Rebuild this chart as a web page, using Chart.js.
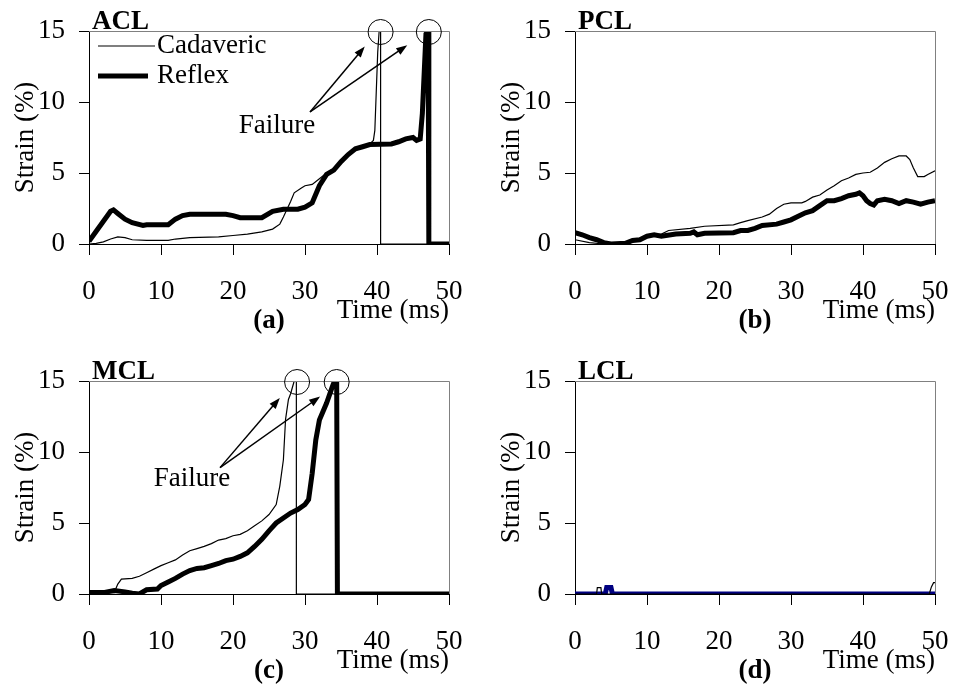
<!DOCTYPE html>
<html>
<head>
<meta charset="utf-8">
<script src="https://cdn.jsdelivr.net/npm/chart.js@4.4.0/dist/chart.umd.min.js"></script>
<style>
  html, body { margin: 0; padding: 0; background: #fff; overflow: hidden; }
  #wrap { position: relative; width: 954px; height: 687px; }
  .panel { position: absolute; width: 468px; height: 337px; }
</style>
</head>
<body>
<div id="wrap">
  <div class="panel" style="left:0;top:0"><canvas id="acl" width="468" height="337"></canvas></div>
  <div class="panel" style="left:486px;top:0"><canvas id="pcl" width="468" height="337"></canvas></div>
  <div class="panel" style="left:0;top:350px"><canvas id="mcl" width="468" height="337"></canvas></div>
  <div class="panel" style="left:486px;top:350px"><canvas id="lcl" width="468" height="337"></canvas></div>
</div>
<script>
// series names and axis text
const seriesNames = ['Cadaveric', 'Reflex'];
const xTitle = 'Time (ms)';
const yTitle = 'Strain (%)';
const xTicks = [0, 10, 20, 30, 40, 50];
const yTicks = [0, 5, 10, 15];

// ACL (a)
const aclCadT = [0, 1, 2, 3, 4, 5, 6, 8, 11, 12, 14, 18, 20, 22, 24, 25.5, 26.5, 27, 28, 28.5, 29.5, 30, 31, 32, 33, 34, 35, 36, 37, 38, 39, 39.5, 39.7, 40.1, 40.3, 40.5, 40.5, 50];
const aclCadY = [0, 0.05, 0.15, 0.35, 0.5, 0.45, 0.3, 0.25, 0.25, 0.35, 0.45, 0.5, 0.6, 0.7, 0.85, 1.05, 1.4, 1.9, 3.0, 3.6, 3.95, 4.1, 4.2, 4.6, 5.0, 5.3, 5.8, 6.3, 6.75, 6.9, 7.05, 7.3, 8.0, 13.5, 15, 15, 0, 0];
const aclRefT = [0, 1, 2, 3, 3.4, 4, 5, 6, 7.5, 8, 11, 12, 13, 14, 19, 20, 21, 24, 25.5, 27, 29, 30, 31, 32, 33, 34, 35, 36, 37, 38, 39, 42, 43, 44, 45, 45.5, 46, 46.3, 46.8, 47.1, 47.2, 50];
const aclRefY = [0.2, 0.9, 1.6, 2.3, 2.4, 2.15, 1.75, 1.5, 1.3, 1.35, 1.35, 1.75, 2.0, 2.1, 2.1, 2.0, 1.85, 1.85, 2.3, 2.45, 2.45, 2.6, 2.9, 4.1, 4.9, 5.2, 5.8, 6.3, 6.7, 6.85, 7.0, 7.05, 7.2, 7.4, 7.5, 7.3, 7.4, 9.2, 14.8, 15, 0, 0];

// PCL (b)
const pclCadT = [0, 2, 4, 7, 8, 10, 12, 13, 16, 18, 22, 23, 24, 26, 27, 28, 29, 30, 31.5, 32, 33, 34, 35, 36, 37, 38, 39, 40, 41, 42, 43, 44, 45, 46, 46.5, 47, 47.6, 48.5, 49, 50];
const pclCadY = [0.3, 0.1, 0, 0, 0.15, 0.55, 0.7, 0.95, 1.1, 1.25, 1.35, 1.5, 1.65, 1.9, 2.1, 2.5, 2.8, 2.9, 2.9, 3.0, 3.3, 3.45, 3.8, 4.1, 4.45, 4.65, 4.9, 5.0, 5.05, 5.35, 5.75, 6.0, 6.2, 6.2, 5.95, 5.35, 4.75, 4.75, 4.9, 5.15];
const pclRefT = [0, 1, 2, 3, 4, 5, 7, 8, 9, 10, 11, 12, 14, 16, 16.5, 17, 18, 22, 23, 24, 25, 26, 28, 29, 30, 31, 32, 33, 34, 35, 36, 37, 38, 39, 39.5, 40, 40.5, 41, 41.5, 42, 43, 44, 45, 46, 47, 48, 49, 50];
const pclRefY = [0.8, 0.65, 0.45, 0.3, 0.1, 0, 0.05, 0.25, 0.3, 0.55, 0.65, 0.55, 0.7, 0.75, 0.85, 0.65, 0.75, 0.8, 0.95, 0.95, 1.1, 1.3, 1.4, 1.55, 1.7, 1.95, 2.2, 2.35, 2.7, 3.05, 3.05, 3.2, 3.4, 3.5, 3.6, 3.4, 3.05, 2.85, 2.75, 3.05, 3.15, 3.05, 2.85, 3.05, 2.95, 2.8, 2.95, 3.05];

// MCL (c)
const mclCadT = [0, 3.5, 4, 4.5, 6, 7, 8, 9, 10, 11, 12, 13, 14, 15, 16, 17, 18, 19, 20, 21, 22, 23, 24, 25, 26, 26.5, 27, 27.3, 27.7, 28, 28.5, 28.8, 28.8, 50];
const mclCadY = [0.1, 0.1, 0.7, 1.05, 1.1, 1.25, 1.5, 1.75, 2.0, 2.2, 2.4, 2.75, 3.05, 3.2, 3.35, 3.55, 3.8, 3.9, 4.1, 4.2, 4.45, 4.8, 5.15, 5.6, 6.3, 7.6, 9.45, 12.3, 13.7, 14.1, 15, 15, 0, 0];
const mclRefT = [0, 2, 3.5, 5, 6, 7, 8, 9.5, 10, 11, 12, 13, 14, 15, 16, 17, 18, 19, 20, 21, 22, 23, 24, 25, 26, 27, 28, 29, 30, 30.5, 31, 31.5, 32, 33, 33.8, 34.1, 34.4, 34.5, 50];
const mclRefY = [0.1, 0.1, 0.25, 0.15, 0.05, 0, 0.3, 0.35, 0.6, 0.85, 1.1, 1.4, 1.65, 1.8, 1.85, 2.0, 2.15, 2.35, 2.45, 2.65, 2.9, 3.35, 3.85, 4.45, 5.0, 5.35, 5.7, 5.95, 6.3, 6.65, 8.5, 10.85, 12.25, 13.45, 14.6, 15, 15, 0, 0];

// LCL (d)
const lclCadT = [0, 3, 3.1, 3.6, 3.7, 49.2, 49.5, 49.8, 50];
const lclCadY = [0, 0, 0.45, 0.45, 0, 0, 0.5, 0.8, 0.8];
const lclRefT = [0, 4.2, 4.4, 5.0, 5.2, 50];
const lclRefY = [0, 0, 0.45, 0.45, 0, 0];

const FONT = '"Liberation Serif", "Times New Roman", serif';

const pts = (t, v) => t.map((x, i) => ({ x: x, y: v[i] }));

// draws frame, panel name, letter, legend and failure marks
const panelDecor = {
  id: 'panelDecor',
  afterDraw(chart, args, o) {
    const { ctx, chartArea: ca, scales } = chart;
    const xs = scales.x, ys = scales.y;
    ctx.save();
    ctx.strokeStyle = '#808080';
    ctx.lineWidth = 1;
    ctx.beginPath();
    ctx.moveTo(ca.left, ca.top + 0.5);
    ctx.lineTo(ca.right + 0.5, ca.top + 0.5);
    ctx.lineTo(ca.right + 0.5, ca.bottom);
    ctx.stroke();

    ctx.fillStyle = '#000';
    ctx.font = 'bold 27px ' + FONT;
    ctx.textAlign = 'left';
    ctx.textBaseline = 'alphabetic';
    ctx.fillText(o.name, ca.left + 3, ca.top - 2);
    ctx.textAlign = 'center';
    ctx.textBaseline = 'middle';
    ctx.fillText(o.letter, (ca.left + ca.right) / 2, ca.bottom + 77);

    if (o.legend) {
      ctx.font = '27px ' + FONT;
      ctx.textAlign = 'left';
      chart.data.datasets.forEach((ds, i) => {
        const ly = ca.top + 15 + i * 30;
        ctx.strokeStyle = ds.borderColor;
        ctx.lineWidth = ds.borderWidth;
        ctx.beginPath();
        ctx.moveTo(ca.left + 9, ly);
        ctx.lineTo(ca.left + (i ? 59 : 66), ly);
        ctx.stroke();
        ctx.fillText(ds.label, ca.left + 68, ly);
      });
    }

    if (o.failure) {
      const f = o.failure;
      ctx.strokeStyle = '#000';
      ctx.lineWidth = 1;
      f.circles.forEach(t => {
        ctx.beginPath();
        ctx.arc(xs.getPixelForValue(t), ys.getPixelForValue(15) + 1, 12.5, 0, Math.PI * 2);
        ctx.stroke();
      });
      const sx = xs.getPixelForValue(f.from[0]), sy = ys.getPixelForValue(f.from[1]);
      f.to.forEach(p => {
        const ex = xs.getPixelForValue(p[0]), ey = ys.getPixelForValue(p[1]);
        const a = Math.atan2(ey - sy, ex - sx);
        ctx.lineWidth = 1.5;
        ctx.beginPath();
        ctx.moveTo(sx, sy);
        ctx.lineTo(ex - 8 * Math.cos(a), ey - 8 * Math.sin(a));
        ctx.stroke();
        ctx.beginPath();
        ctx.moveTo(ex, ey);
        ctx.lineTo(ex - 11 * Math.cos(a) + 4 * Math.sin(a), ey - 11 * Math.sin(a) - 4 * Math.cos(a));
        ctx.lineTo(ex - 11 * Math.cos(a) - 4 * Math.sin(a), ey - 11 * Math.sin(a) + 4 * Math.cos(a));
        ctx.closePath();
        ctx.fill();
      });
      ctx.font = '27px ' + FONT;
      ctx.textAlign = 'center';
      ctx.textBaseline = 'middle';
      ctx.fillText('Failure', xs.getPixelForValue(f.text[0]), ys.getPixelForValue(f.text[1]));
    }
    ctx.restore();
  }
};

function makeChart(id, cadT, cadY, refT, refY, refColor, deco) {
  const axisFont = { family: FONT, size: 27 };
  return new Chart(document.getElementById(id), {
    type: 'line',
    data: {
      datasets: [
        { label: seriesNames[0], data: pts(cadT, cadY), borderColor: '#000', borderWidth: 1.2, pointRadius: 0, tension: 0 },
        { label: seriesNames[1], data: pts(refT, refY), borderColor: refColor, borderWidth: 5, pointRadius: 0, tension: 0 }
      ]
    },
    options: {
      responsive: false,
      animation: false,
      layout: { padding: { left: 0, right: 19, top: 31, bottom: 0 } },
      scales: {
        x: {
          type: 'linear', min: xTicks[0], max: xTicks[xTicks.length - 1],
          afterFit: s => { s.height = 93; s.paddingLeft = 0; s.paddingRight = 0; },
          afterBuildTicks: s => { s.ticks = xTicks.map(v => ({ value: v })); },
          ticks: { color: '#000', font: axisFont, padding: 21, maxRotation: 0, autoSkip: false },
          grid: { drawOnChartArea: false, tickLength: 11, color: '#000' },
          border: { color: '#000', width: 1 },
          title: { display: true, text: xTitle, align: 'end', color: '#000', font: axisFont, padding: { top: 0, bottom: 10 } }
        },
        y: {
          type: 'linear', min: yTicks[0], max: yTicks[yTicks.length - 1],
          afterFit: s => { s.width = 89; s.paddingTop = 0; s.paddingBottom = 0; },
          afterBuildTicks: s => { s.ticks = yTicks.map(v => ({ value: v })); },
          ticks: { color: '#000', font: axisFont, padding: 14 },
          grid: { drawOnChartArea: false, tickLength: 10, color: '#000' },
          border: { color: '#000', width: 1 },
          title: { display: true, text: yTitle, color: '#000', font: axisFont, padding: { top: 10, bottom: 0 } }
        }
      },
      plugins: {
        legend: { display: false },
        tooltip: { enabled: false },
        panelDecor: deco
      }
    },
    plugins: [panelDecor]
  });
}

makeChart('acl', aclCadT, aclCadY, aclRefT, aclRefY, '#000', {
  name: 'ACL', letter: '(a)', legend: true,
  failure: { circles: [40.5, 47.2], from: [30.7, 9.3], to: [[38.3, 13.9], [44.2, 14.0]], text: [26.1, 8.3] }
});
makeChart('pcl', pclCadT, pclCadY, pclRefT, pclRefY, '#000', { name: 'PCL', letter: '(b)' });
makeChart('mcl', mclCadT, mclCadY, mclRefT, mclRefY, '#000', {
  name: 'MCL', letter: '(c)',
  failure: { circles: [28.9, 34.4], from: [18.2, 8.9], to: [[26.5, 13.8], [32.1, 13.9]], text: [14.3, 8.1] }
});
makeChart('lcl', lclCadT, lclCadY, lclRefT, lclRefY, '#000080', { name: 'LCL', letter: '(d)' });
</script>
</body>
</html>
